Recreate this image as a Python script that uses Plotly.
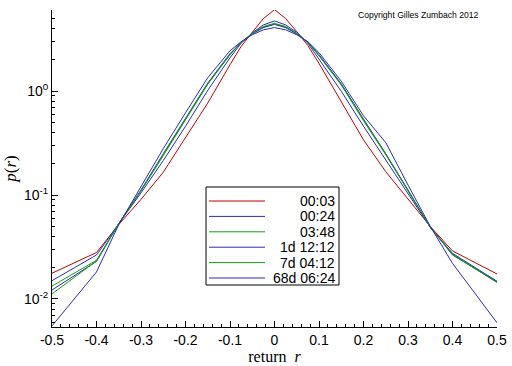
import plotly.graph_objects as go

# ---- data ----
r_vals = [-0.5, -0.4, -0.35, -0.3, -0.25, -0.2, -0.15, -0.1, -0.075, -0.05, -0.025, 0.0,
          0.025, 0.05, 0.075, 0.1, 0.15, 0.2, 0.25, 0.3, 0.35, 0.4, 0.5]

p_0003 = [0.0177, 0.028, 0.052, 0.091, 0.166, 0.36, 0.77, 1.8, 2.7, 3.7, 5.0, 6.1,
          5.0, 3.75, 2.75, 1.85, 0.8, 0.34, 0.168, 0.092, 0.05, 0.029, 0.0174]
p_0024 = [0.015, 0.0265, 0.053, 0.105, 0.215, 0.46, 1.02, 2.1, 2.9, 3.65, 4.35, 4.75,
          4.35, 3.7, 2.9, 2.05, 1.0, 0.46, 0.22, 0.105, 0.049, 0.0275, 0.0148]
p_0348 = [0.0133, 0.0236, 0.053, 0.11, 0.24, 0.53, 1.17, 2.25, 2.95, 3.6, 4.15, 4.45,
          4.15, 3.6, 2.95, 2.2, 1.15, 0.52, 0.245, 0.11, 0.049, 0.027, 0.0146]
p_1d = [0.0122, 0.023, 0.053, 0.112, 0.25, 0.55, 1.2, 2.3, 2.95, 3.55, 4.1, 4.4,
        4.1, 3.55, 2.95, 2.25, 1.18, 0.54, 0.25, 0.112, 0.049, 0.0265, 0.0146]
p_7d = [0.0112, 0.0232, 0.053, 0.11, 0.245, 0.54, 1.18, 2.25, 2.95, 3.6, 4.2, 4.5,
        4.2, 3.6, 2.95, 2.2, 1.16, 0.53, 0.25, 0.11, 0.049, 0.0268, 0.0144]
p_68d = [0.0055, 0.0182, 0.052, 0.12, 0.28, 0.62, 1.35, 2.45, 3.0, 3.5, 3.9, 4.1,
         3.9, 3.5, 3.0, 2.35, 1.25, 0.58, 0.32, 0.125, 0.05, 0.022, 0.0059]

series_names = ["00:03", "00:24", "03:48", "1d 12:12", "7d 04:12", "68d 06:24"]
series_values = [p_0003, p_0024, p_0348, p_1d, p_7d, p_68d]
series_colors = ["#c00000", "#2a2ab8", "#10a010", "#2a2ab8", "#10a010", "#2a2ab8"]

x_tickvals = [-0.5, -0.4, -0.3, -0.2, -0.1, 0, 0.1, 0.2, 0.3, 0.4, 0.5]
x_ticktext = ["-0.5", "-0.4", "-0.3", "-0.2", "-0.1", "0", "0.1", "0.2", "0.3", "0.4", "0.5"]
y_tickvals = [0.01, 0.1, 1]
y_ticktext = ["10<sup>-2</sup>", "10<sup>-1</sup>", "10<sup>0</sup>"]

# ---- layout geometry (pixels) ----
W, H = 512, 366
ML, MR, MT, MB = 52, 15, 10, 39
PW, PH = W - ML - MR, H - MT - MB

def px_x(px):
    return (px - ML) / PW

def px_y(py):
    return (H - MB - py) / PH

fig = go.Figure()
for name, vals, col in zip(series_names, series_values, series_colors):
    fig.add_trace(go.Scatter(x=r_vals, y=vals, mode="lines", name=name,
                             line=dict(color=col, width=1), showlegend=False))

# legend box drawn in paper coordinates (boxed legend with right-aligned labels)
LEG_L, LEG_R, LEG_T, LEG_B = 206, 339, 187, 285
ROW0, ROW_STEP = 201, 15.4
shapes = [dict(type="rect", xref="paper", yref="paper",
               x0=px_x(LEG_L), x1=px_x(LEG_R), y0=px_y(LEG_B), y1=px_y(LEG_T),
               line=dict(color="black", width=1), fillcolor="white", layer="above")]
annotations = []
for i, (name, col) in enumerate(zip(series_names, series_colors)):
    yy = px_y(ROW0 + i * ROW_STEP)
    shapes.append(dict(type="line", xref="paper", yref="paper",
                       x0=px_x(209), x1=px_x(265), y0=yy, y1=yy,
                       line=dict(color=col, width=1), layer="above"))
    annotations.append(dict(text=name, xref="paper", yref="paper", x=px_x(337), y=yy,
                            xanchor="right", yanchor="middle", showarrow=False,
                            font=dict(size=14, family="Liberation Sans, Arial, sans-serif")))

annotations.append(dict(text="Copyright Gilles Zumbach 2012", xref="paper", yref="paper",
                        x=px_x(481), y=px_y(15), xanchor="right", yanchor="middle", showarrow=False,
                        font=dict(size=8.6, family="Liberation Sans, Arial, sans-serif")))

minor_y = [m * 10 ** e for e in (-3, -2, -1, 0) for m in range(2, 10)]
serif = "Liberation Serif, Times New Roman, serif"

fig.update_layout(
    width=W, height=H,
    margin=dict(l=ML, r=MR, t=MT, b=MB),
    paper_bgcolor="white", plot_bgcolor="white",
    font=dict(family="Liberation Sans, Arial, sans-serif", size=14, color="black"),
    showlegend=False,
    hovermode=False,
    xaxis=dict(range=[-0.5, 0.5], tickvals=x_tickvals, ticktext=x_ticktext, automargin=False,
               showline=True, linecolor="black", linewidth=1, mirror=False,
               ticks="inside", ticklen=6, tickcolor="black", showgrid=False, zeroline=False,
               minor=dict(ticks="inside", ticklen=3, dtick=0.02, tick0=0, tickcolor="black", showgrid=False),
               title=dict(text="return  <i>r</i>", font=dict(family=serif, size=16), standoff=0)),
    yaxis=dict(type="log", range=[-2.27, 0.782], tickvals=y_tickvals, ticktext=y_ticktext, automargin=False,
               showline=True, linecolor="black", linewidth=1, mirror=False,
               ticks="inside", ticklen=6, tickcolor="black", showgrid=False, zeroline=False,
               minor=dict(ticks="inside", ticklen=3, tickvals=minor_y, tickcolor="black", showgrid=False),
               title=dict(text="<i>p</i>(<i>r</i>)", font=dict(family=serif, size=17), standoff=2)),
    shapes=shapes,
    annotations=annotations,
)

fig.write_html("out.html", config={"displayModeBar": False},
               post_script="document.body.style.margin='0';")
